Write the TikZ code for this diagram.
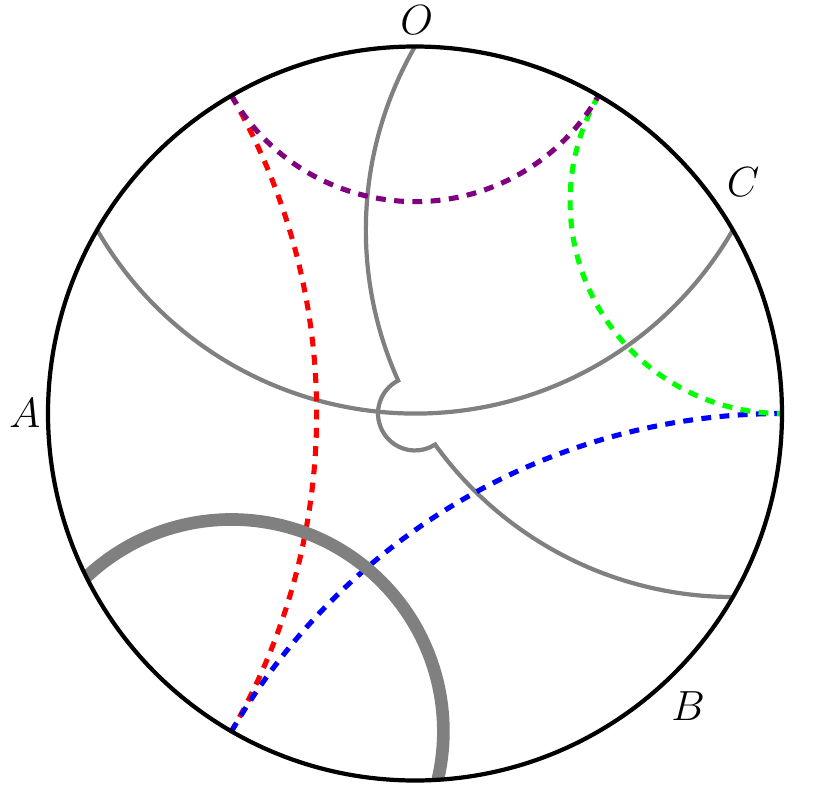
\documentclass[tikz,border=0pt]{standalone}
\definecolor{mypurple}{RGB}{128,0,128}
\definecolor{mygreen}{RGB}{0,255,0}
\definecolor{mygray}{RGB}{128,128,128}
\begin{document}
\begin{tikzpicture}[x=3.67cm,y=3.67cm,
  bound/.style={line width=1.2pt,black},
  geo/.style={line width=1.2pt,mygray},
  thickgeo/.style={line width=3.6pt,mygray},
  ideal/.style={line width=1.45pt,dash pattern=on 2.8pt off 2.4pt},
  lab/.style={font=\large}]
\useasboundingbox (-1.1308,-1.0204) rectangle (1.1308,1.1267);
\coordinate (P0) at (0:1);
\coordinate (P60) at (60:1);
\coordinate (P120) at (120:1);
\coordinate (P240) at (240:1);
\coordinate (PA) at (150:1);
\coordinate (PC) at (30:1);
\coordinate (PO) at (90:1);
\coordinate (PB) at (-30:1);
% thin gray curves
\draw[geo] (PA) arc[start angle=210,end angle=330,radius=1];
\draw[geo,line join=miter] (PO) arc[start angle=150,end angle=204.222,radius=1]
  arc[start angle=117.111,end angle=302.889,radius=0.1008]
  arc[start angle=215.778,end angle=270,radius=1];
% ideal quadrilateral
\draw[ideal,red] (P120) arc[start angle=30,end angle=-30,radius=1.73205];
\draw[ideal,blue] (P240) arc[start angle=150,end angle=90,radius=1.73205];
\draw[ideal,mygreen] (P60) arc[start angle=150,end angle=270,radius=0.57735];
\draw[ideal,mypurple] (P120) arc[start angle=210,end angle=330,radius=0.57735];
% thick gray arc
\draw[thickgeo] (P240) ++(133.22:0.57735) arc[start angle=133.22,end angle=-13.22,radius=0.57735];
% boundary
\draw[bound] (0,0) circle[radius=1];
% labels
\node[lab] (lO) at (0.005,1.072) {$O$};
\node[lab] (lA) at (-1.063,0) {$A$};
\node[lab] (lC) at (0.894,0.631) {$C$};
\node[lab] (lB) at (0.744,-0.797) {$B$};
\end{tikzpicture}
\end{document}
